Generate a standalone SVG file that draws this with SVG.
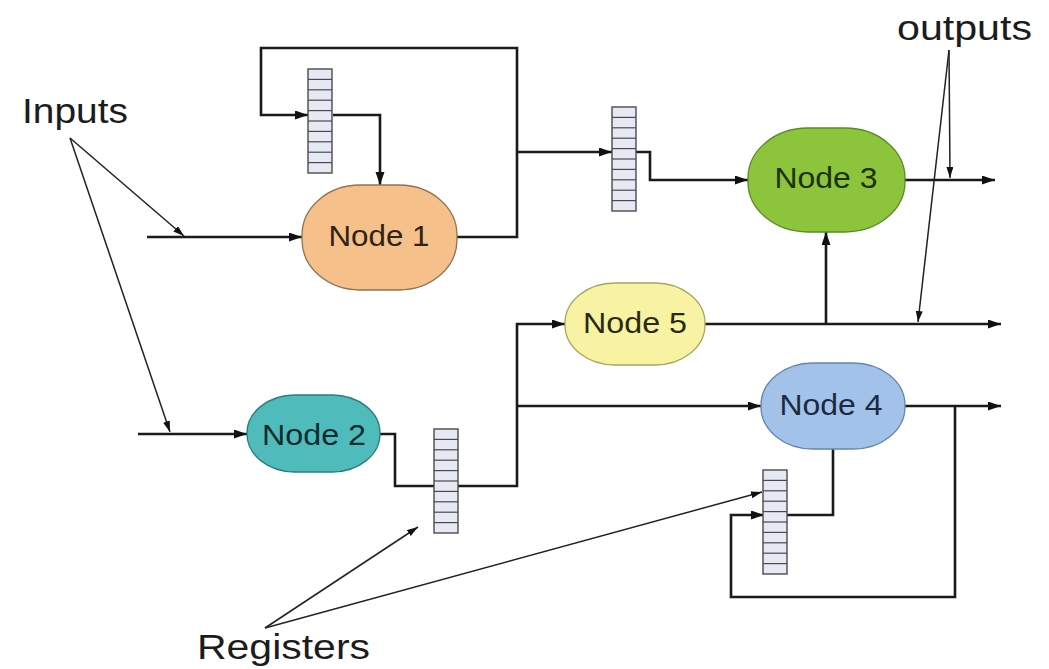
<svg xmlns="http://www.w3.org/2000/svg" xmlns:xlink="http://www.w3.org/1999/xlink" width="1049" height="669" viewBox="0 0 1049 669">
<style>
.bg{fill:#ffffff}
.wire{fill:none;stroke:#1a1a1a;stroke-width:2.6;stroke-linejoin:miter}
.ptr{fill:none;stroke:#222;stroke-width:1.5}
.lbl{font-family:"Liberation Sans",Arial,sans-serif;font-size:35px;fill:#1c1c1c}
.ntx{font-family:"Liberation Sans",Arial,sans-serif;font-size:30px;text-anchor:middle}
.reg rect{fill:#e6e9f4;stroke:#4a4a4a;stroke-width:1.4}
.reg line{stroke:#4a4a4a;stroke-width:1.2}
</style>
<defs>
<marker id="ah" markerUnits="userSpaceOnUse" markerWidth="14" markerHeight="10" refX="13" refY="4.5" orient="auto">
<path d="M0,0 L13,4.5 L0,9 z" fill="#111"/>
</marker>
<marker id="ap" markerUnits="userSpaceOnUse" markerWidth="12" markerHeight="8" refX="11" refY="3.5" orient="auto">
<path d="M0,0 L11,3.5 L0,7 z" fill="#111"/>
</marker>
<g id="regshape" class="reg">
<rect x="0" y="0" width="24" height="104"/>
<line x1="0" y1="10.4" x2="24" y2="10.4"/>
<line x1="0" y1="20.8" x2="24" y2="20.8"/>
<line x1="0" y1="31.2" x2="24" y2="31.2"/>
<line x1="0" y1="41.6" x2="24" y2="41.6"/>
<line x1="0" y1="52" x2="24" y2="52"/>
<line x1="0" y1="62.4" x2="24" y2="62.4"/>
<line x1="0" y1="72.8" x2="24" y2="72.8"/>
<line x1="0" y1="83.2" x2="24" y2="83.2"/>
<line x1="0" y1="93.6" x2="24" y2="93.6"/>
</g>
</defs>
<rect class="bg" x="0" y="0" width="1049" height="669"/>

<g id="connectors">
<path class="wire" d="M147,237 H302" marker-end="url(#ah)"/>
<path class="wire" d="M138,434 H247" marker-end="url(#ah)"/>
<path class="wire" d="M457,237 H517 V48 H261 V115 H308" marker-end="url(#ah)"/>
<path class="wire" d="M333,115 H380 V185" marker-end="url(#ah)"/>
<path class="wire" d="M517,152 H612" marker-end="url(#ah)"/>
<path class="wire" d="M636,152 H650 V180 H748" marker-end="url(#ah)"/>
<path class="wire" d="M905,180 H995" marker-end="url(#ah)"/>
<path class="wire" d="M705,324 H1001" marker-end="url(#ah)"/>
<path class="wire" d="M826,324 V232" marker-end="url(#ah)"/>
<path class="wire" d="M380,434 H395 V486 H517 V324 H565" marker-end="url(#ah)"/>
<path class="wire" d="M517,406 H761" marker-end="url(#ah)"/>
<path class="wire" d="M905,406 H1001" marker-end="url(#ah)"/>
<path class="wire" d="M955,406 V597 H731 V515 H764" marker-end="url(#ah)"/>
<path class="wire" d="M833,449 V515 H786"/>
<path class="ptr" d="M70,138 L184,236" marker-end="url(#ap)"/>
<path class="ptr" d="M70,138 L170,432" marker-end="url(#ap)"/>
<path class="ptr" d="M949,50 L950,178" marker-end="url(#ap)"/>
<path class="ptr" d="M949,50 L918,322" marker-end="url(#ap)"/>
<path class="ptr" d="M265,628 L418,527" marker-end="url(#ap)"/>
<path class="ptr" d="M265,628 L762,492" marker-end="url(#ap)"/>
</g>

<g id="node1">
<rect x="302" y="185" width="155" height="105" rx="58" ry="50" fill="#f5c08a" stroke="#8f7352" stroke-width="1.3"/>
<text class="ntx" x="379" y="246" fill="#2e2416" textLength="101" lengthAdjust="spacingAndGlyphs">Node 1</text>
</g>
<g id="node2">
<rect x="247" y="395" width="133" height="77" rx="48" ry="38" fill="#4fbcbb" stroke="#2b7d7c" stroke-width="1.3"/>
<text class="ntx" x="314" y="445" fill="#0f2c2c" textLength="104" lengthAdjust="spacingAndGlyphs">Node 2</text>
</g>
<g id="node3">
<rect x="748" y="128" width="157" height="104" rx="60" ry="50" fill="#8cc43c" stroke="#5b8a22" stroke-width="1.3"/>
<text class="ntx" x="826" y="188" fill="#1d300a" textLength="103" lengthAdjust="spacingAndGlyphs">Node 3</text>
</g>
<g id="node4">
<rect x="761" y="363" width="144" height="86" rx="52" ry="42" fill="#a3c2ea" stroke="#6785ad" stroke-width="1.3"/>
<text class="ntx" x="831" y="415" fill="#1b2a40" textLength="103" lengthAdjust="spacingAndGlyphs">Node 4</text>
</g>
<g id="node5">
<rect x="565" y="283" width="140" height="82" rx="50" ry="40" fill="#f7f3a2" stroke="#a9a55c" stroke-width="1.3"/>
<text class="ntx" x="635" y="333" fill="#2a2a12" textLength="104" lengthAdjust="spacingAndGlyphs">Node 5</text>
</g>

<g id="register1"><use xlink:href="#regshape" href="#regshape" x="308" y="69"/></g>
<g id="register2"><use xlink:href="#regshape" href="#regshape" x="612" y="107"/></g>
<g id="register3"><use xlink:href="#regshape" href="#regshape" x="434" y="429"/></g>
<g id="register4"><use xlink:href="#regshape" href="#regshape" x="763" y="470"/></g>

<g id="labels">
<text class="lbl" x="22" y="123" textLength="106" lengthAdjust="spacingAndGlyphs">Inputs</text>
<text class="lbl" x="897" y="40" textLength="135" lengthAdjust="spacingAndGlyphs">outputs</text>
<text class="lbl" x="197" y="659" textLength="173" lengthAdjust="spacingAndGlyphs">Registers</text>
</g>
</svg>
